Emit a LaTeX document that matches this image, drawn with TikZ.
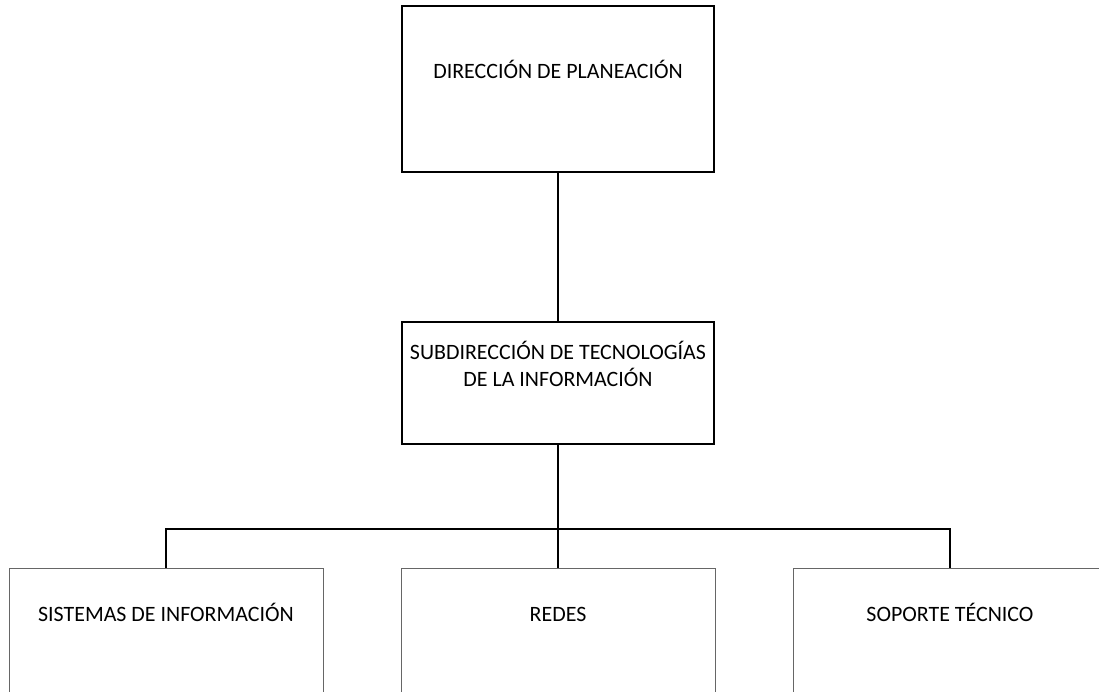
\documentclass[tikz,border=0pt]{standalone}
\usepackage{fontspec}
\setmainfont{Carlito}
\usetikzlibrary{calc}
\tikzset{
	headbox/.style={draw, line width=2.1pt, minimum width=7.8cm, inner sep=0pt},
	unitbox/.style={draw=black!60, line width=0.7pt, minimum width=7.85cm, minimum height=4.2cm, inner sep=0pt},
	boxtext/.style={font=\fontsize{15.6}{19}\selectfont, align=center, inner sep=0pt},
	link/.style={line width=1.4pt}
}

\begin{document}
\begin{tikzpicture}
		%%%%% FRAME %%%%%
		\useasboundingbox (0, 0) rectangle (27.475, -17.3);
		\clip (0, 0) rectangle (27.475, -17.3);
		
		%%%%% BOXES %%%%%
		\node[headbox, minimum height=4.15cm] (dir) at (13.95, -2.225) {};
		\node[headbox, minimum height=3.05cm] (sub) at (13.95, -9.575) {};
		
		\node[unitbox] (sis) at (4.15, -16.3) {};
		\node[unitbox] (red) at (13.95, -16.3) {};
		\node[unitbox] (sop) at (23.75, -16.3) {};
		
		%%%%% TEXTS %%%%%
		\node[boxtext, anchor=base] (dirtext) at ($(dir.north)+(0, -1.86)$) {DIRECCIÓN DE PLANEACIÓN};
		\node[boxtext, anchor=north] (subtext) at ($(sub.north)+(0, -0.52)$) {SUBDIRECCIÓN DE TECNOLOGÍAS\\DE LA INFORMACIÓN};
		
		\node[boxtext, anchor=base] (sistext) at ($(sis.north)+(0, -1.36)$) {SISTEMAS DE INFORMACIÓN};
		\node[boxtext, anchor=base] (redtext) at ($(red.north)+(0, -1.36)$) {REDES};
		\node[boxtext, anchor=base] (soptext) at ($(sop.north)+(0, -1.36)$) {SOPORTE TÉCNICO};
		
		%%%%% LINKS %%%%%
		\draw[link] (dir.south) -- (sub.north);
		\draw[link] (sub.south) -- ++(0, -2.1) coordinate (bus);
		\draw[link] (sis.north) |- (bus) -| (sop.north);
		\draw[link] (bus) -- (red.north);
		
		%%%%% END %%%%%
\end{tikzpicture}
\end{document}
